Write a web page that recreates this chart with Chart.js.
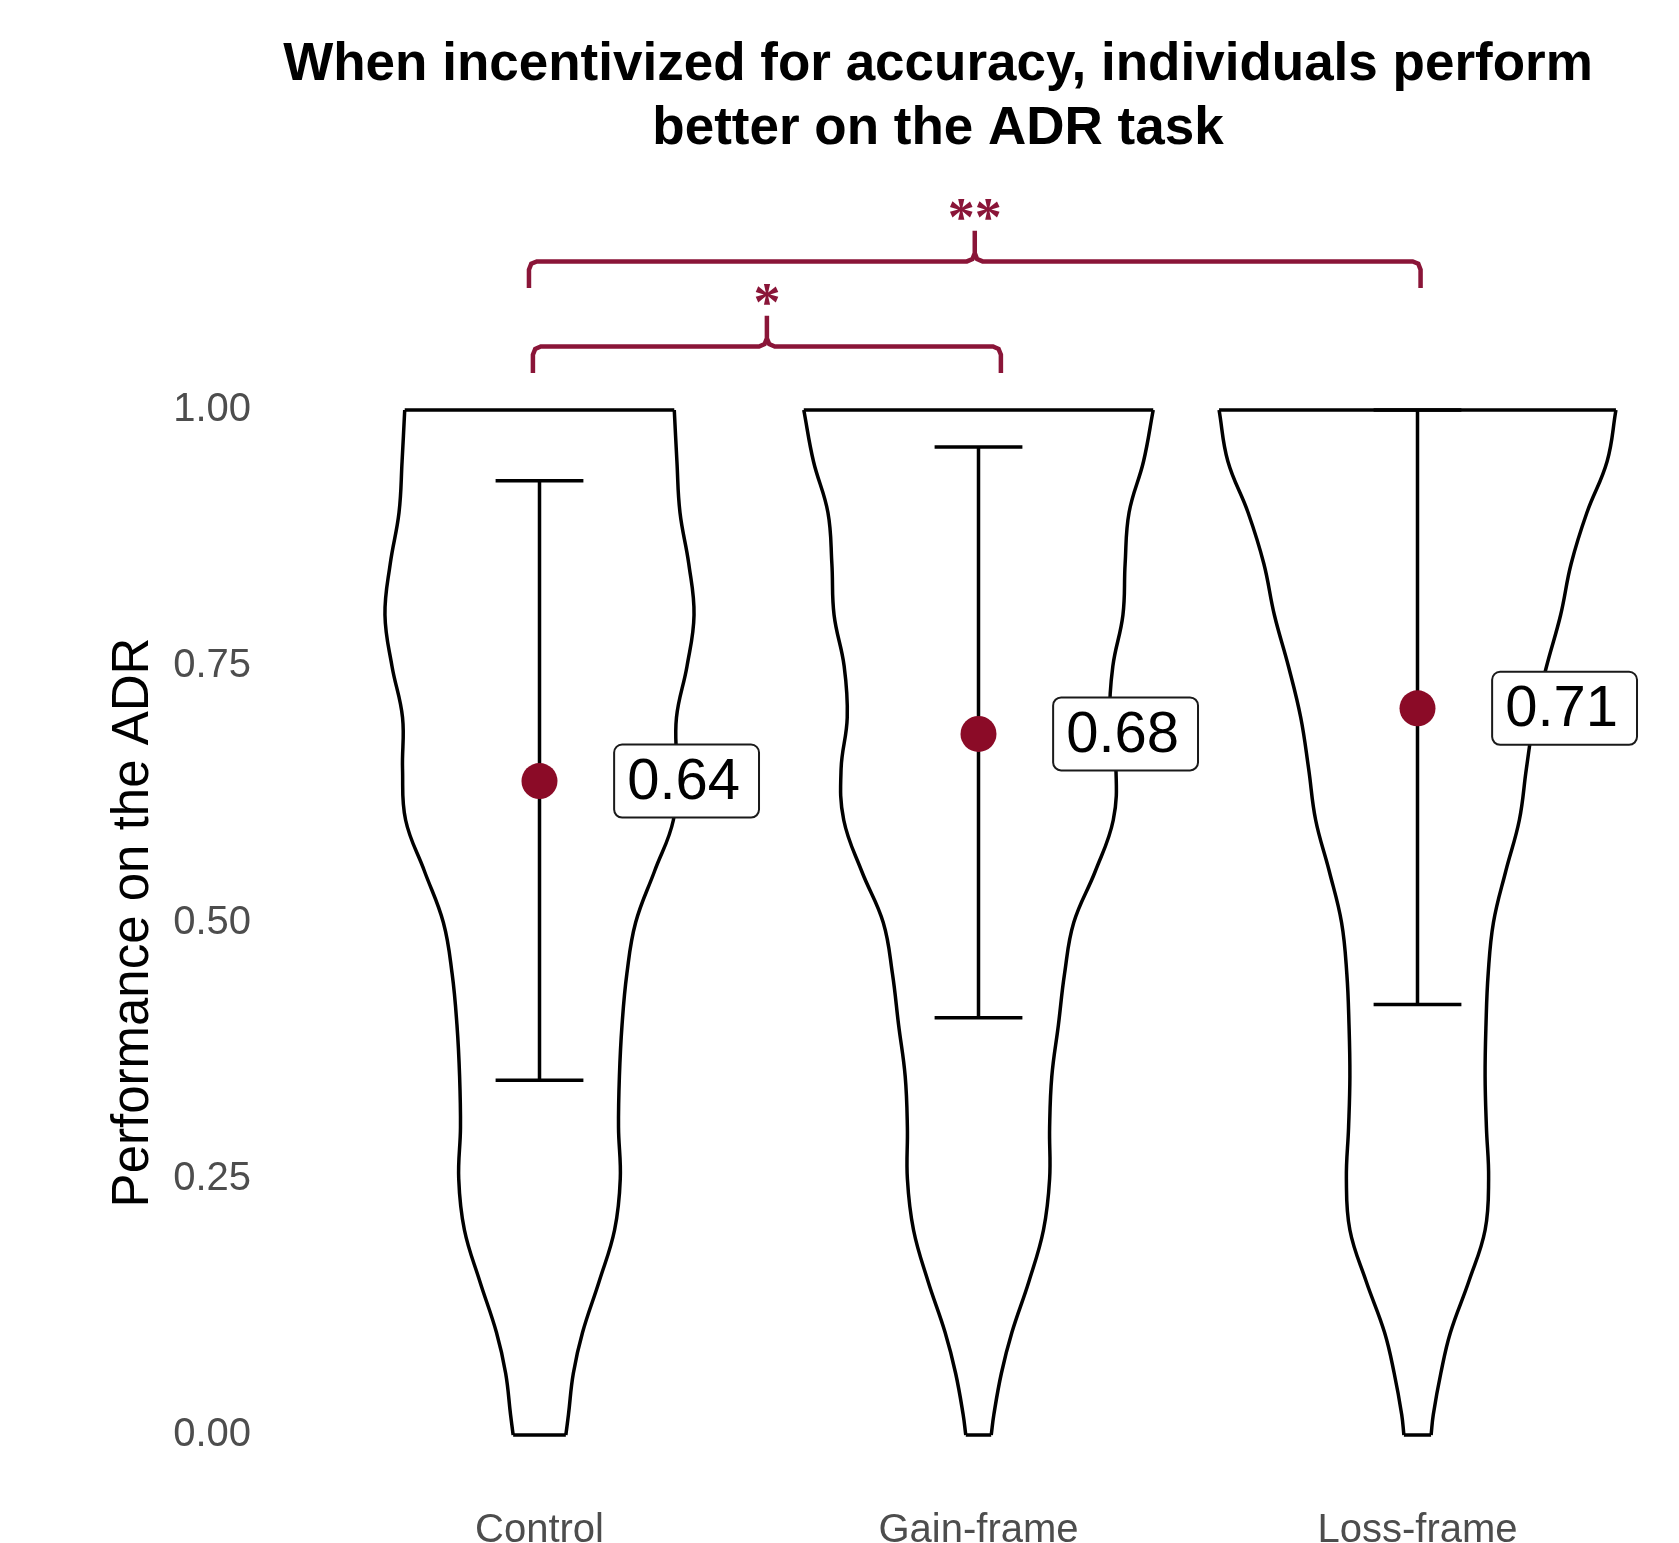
<!DOCTYPE html>
<html>
<head>
<meta charset="utf-8">
<title>ADR task performance</title>
<script src="https://cdn.jsdelivr.net/npm/chart.js@4.4.0/dist/chart.umd.min.js"></script>
<style>
    html, body { margin: 0; padding: 0; background: #ffffff; }
    #wrap { width: 1679px; height: 1543px; position: relative; }
</style>
</head>
<body>
<div id="wrap"><canvas id="adrChart"></canvas></div>
<script>
    // Nhóm và giá trị trung bình / khoảng tin cậy
    var groups = ['Control', 'Gain-frame', 'Loss-frame'];
    var means = [0.638, 0.684, 0.709];
    var ciLow = [0.346, 0.407, 0.420];
    var ciHigh = [0.931, 0.964, 1.000];

    // Đường viền violin: nửa bề rộng (đơn vị nhóm) tại từng mức densityY
    var densityY = [0, 0.02, 0.06, 0.10, 0.15, 0.20, 0.25, 0.30, 0.35, 0.40, 0.45, 0.50, 0.55, 0.60, 0.65, 0.70, 0.75, 0.80, 0.85, 0.90, 0.95, 1.00];
    var controlWidth = [0.060, 0.066, 0.077, 0.098, 0.136, 0.171, 0.184, 0.180, 0.182, 0.188, 0.199, 0.219, 0.262, 0.305, 0.312, 0.312, 0.336, 0.352, 0.340, 0.320, 0.313, 0.307];
    var gainWidth = [0.029, 0.035, 0.052, 0.076, 0.115, 0.148, 0.162, 0.162, 0.167, 0.182, 0.196, 0.217, 0.266, 0.307, 0.313, 0.299, 0.306, 0.329, 0.334, 0.343, 0.376, 0.398];
    var lossWidth = [0.031, 0.036, 0.053, 0.075, 0.117, 0.154, 0.162, 0.157, 0.154, 0.156, 0.161, 0.173, 0.201, 0.232, 0.248, 0.266, 0.294, 0.326, 0.350, 0.386, 0.432, 0.452];

    // Nhãn trục
    var yTicks = [0, 0.25, 0.5, 0.75, 1];
    var titleLines = ['When incentivized for accuracy, individuals perform', 'better on the ADR task'];
    var yTitle = 'Performance on the ADR';

    // Dấu ngoặc ý nghĩa thống kê
    var bracketFrom = [0.976, 0.985];
    var bracketTo = [3.007, 2.051];
    var bracketY = [1.145, 1.062];
    var bracketLabels = ['**', '*'];

    // Kiểu dáng
    var maroon = '#8a1538';
    var dotColor = '#8b0b27';
    var capHalf = 0.1;
    var bracketDrop = 0.026, tipHeight = 0.03, cornerX = 0.018, cornerY = 0.008;
    var labelShift = 0.17, labelPadX = 16, labelHeight = 73;

    // Hàm dựng một cạnh violin (từ đáy lên đỉnh)
    function violinSide(center, widths, sign) {
        var pts = [];
        for (var i = 0; i < densityY.length; i++) {
            pts.push({ x: center + sign * widths[i], y: densityY[i] });
        }
        return pts;
    }

    // Hàm dựng đoạn nắp trên/dưới của các violin
    function violinCaps() {
        var all = [controlWidth, gainWidth, lossWidth];
        var last = densityY.length - 1;
        var pts = [];
        for (var g = 0; g < all.length; g++) {
            var c = g + 1;
            pts.push({ x: c - all[g][last], y: densityY[last] }, { x: c + all[g][last], y: densityY[last] }, { x: c, y: null });
            pts.push({ x: c - all[g][0], y: densityY[0] }, { x: c + all[g][0], y: densityY[0] }, { x: c, y: null });
        }
        return pts;
    }

    // Hàm dựng thanh sai số
    function errorBars() {
        var pts = [];
        for (var i = 0; i < groups.length; i++) {
            var c = i + 1;
            pts.push({ x: c - capHalf, y: ciHigh[i] }, { x: c + capHalf, y: ciHigh[i] }, { x: c, y: null });
            pts.push({ x: c, y: ciHigh[i] }, { x: c, y: ciLow[i] }, { x: c, y: null });
            pts.push({ x: c - capHalf, y: ciLow[i] }, { x: c + capHalf, y: ciLow[i] }, { x: c, y: null });
        }
        return pts;
    }

    // Hàm dựng dấu ngoặc nhọn
    function bracketPath(k) {
        var x0 = bracketFrom[k], x1 = bracketTo[k], y = bracketY[k];
        var xm = (x0 + x1) / 2;
        var q = 0.293;
        return [
            { x: x0, y: y - bracketDrop },
            { x: x0, y: y - cornerY },
            { x: x0 + cornerX * q, y: y - cornerY * q },
            { x: x0 + cornerX, y: y },
            { x: xm - cornerX, y: y },
            { x: xm - cornerX * q, y: y + cornerY * q },
            { x: xm, y: y + cornerY },
            { x: xm, y: y + tipHeight },
            { x: xm, y: y + cornerY },
            { x: xm + cornerX * q, y: y + cornerY * q },
            { x: xm + cornerX, y: y },
            { x: x1 - cornerX, y: y },
            { x: x1 - cornerX * q, y: y - cornerY * q },
            { x: x1, y: y - cornerY },
            { x: x1, y: y - bracketDrop }
        ];
    }

    function lineSet(data, color, width, tension) {
        return {
            type: 'line',
            data: data,
            borderColor: color,
            borderWidth: width,
            backgroundColor: 'transparent',
            pointRadius: 0,
            tension: tension,
            fill: false,
            spanGaps: false,
            clip: false,
            order: 2
        };
    }

    // Plugin vẽ nhãn trung bình, dấu sao và tiêu đề
    var overlayPlugin = {
        id: 'overlay',
        afterDatasetsDraw: function (chart) {
            var ctx = chart.ctx;
            var xs = chart.scales.x, ys = chart.scales.y;
            ctx.save();

            // Nhãn giá trị trung bình
            ctx.font = '58px "Liberation Sans", Arial, sans-serif';
            for (var i = 0; i < groups.length; i++) {
                var text = means[i].toFixed(2);
                var w = ctx.measureText(text).width + 2 * labelPadX;
                var left = xs.getPixelForValue(i + 1 + labelShift);
                var cy = ys.getPixelForValue(means[i]);
                ctx.beginPath();
                ctx.roundRect(left, cy - labelHeight / 2, w, labelHeight, 8);
                ctx.fillStyle = '#ffffff';
                ctx.fill();
                ctx.lineWidth = 2;
                ctx.strokeStyle = '#1a1a1a';
                ctx.stroke();
                ctx.fillStyle = '#000000';
                ctx.textAlign = 'left';
                ctx.textBaseline = 'middle';
                ctx.fillText(text, left + labelPadX - 3, cy + 2);
            }

            // Dấu sao trên dấu ngoặc
            ctx.font = 'bold 54px "Liberation Serif", "Times New Roman", serif';
            ctx.fillStyle = maroon;
            ctx.textAlign = 'center';
            ctx.textBaseline = 'alphabetic';
            for (var k = 0; k < bracketLabels.length; k++) {
                var xm = xs.getPixelForValue((bracketFrom[k] + bracketTo[k]) / 2);
                var top = ys.getPixelForValue(bracketY[k] + tipHeight);
                ctx.fillText(bracketLabels[k], xm, top + 4);
            }

            // Tiêu đề
            ctx.font = 'bold 53px "Liberation Sans", Arial, sans-serif';
            ctx.fillStyle = '#000000';
            ctx.textAlign = 'center';
            ctx.fillText(titleLines[0], 938, 80);
            ctx.fillText(titleLines[1], 938, 144);
            ctx.restore();
        }
    };

    function initChart() {
        var datasets = [];
        // Điểm trung bình (vẽ trên cùng)
        datasets.push({
            type: 'scatter',
            data: means.map(function (m, i) { return { x: i + 1, y: m }; }),
            backgroundColor: dotColor,
            borderWidth: 0,
            pointRadius: 18,
            pointHoverRadius: 18,
            clip: false,
            order: 0
        });
        datasets.push(lineSet(errorBars(), '#000000', 3.5, 0));
        var widths = [controlWidth, gainWidth, lossWidth];
        for (var g = 0; g < widths.length; g++) {
            datasets.push(lineSet(violinSide(g + 1, widths[g], 1), '#000000', 3.5, 0.4));
            datasets.push(lineSet(violinSide(g + 1, widths[g], -1), '#000000', 3.5, 0.4));
        }
        datasets.push(lineSet(violinCaps(), '#000000', 3.5, 0));
        for (var k = 0; k < bracketLabels.length; k++) {
            datasets.push(lineSet(bracketPath(k), maroon, 4.5, 0));
        }

        var ctx = document.getElementById('adrChart').getContext('2d');
        new Chart(ctx, {
            type: 'line',
            data: { datasets: datasets },
            plugins: [overlayPlugin],
            options: {
                responsive: true,
                maintainAspectRatio: false,
                devicePixelRatio: 1,
                animation: false,
                layout: { padding: { top: 410, right: 42, left: 0, bottom: 0 } },
                plugins: {
                    legend: { display: false },
                    tooltip: { enabled: false },
                    title: { display: false }
                },
                scales: {
                    x: {
                        type: 'linear',
                        min: 0.5,
                        max: 3.5,
                        bounds: 'data',
                        grid: { display: false },
                        border: { display: false },
                        afterBuildTicks: function (scale) {
                            scale.ticks = groups.map(function (g, i) { return { value: i + 1 }; });
                        },
                        afterFit: function (scale) { scale.height = 108; },
                        ticks: {
                            autoSkip: false,
                            maxRotation: 0,
                            padding: 64,
                            color: '#4d4d4d',
                            font: { family: '"Liberation Sans", Arial, sans-serif', size: 40 },
                            callback: function (value) { return groups[Math.round(value) - 1]; }
                        }
                    },
                    y: {
                        type: 'linear',
                        min: 0,
                        max: 1,
                        bounds: 'data',
                        grid: { display: false },
                        border: { display: false },
                        afterBuildTicks: function (scale) {
                            scale.ticks = yTicks.map(function (v) { return { value: v }; });
                        },
                        afterFit: function (scale) { scale.width = 320; },
                        ticks: {
                            padding: 61,
                            color: '#4d4d4d',
                            font: { family: '"Liberation Sans", Arial, sans-serif', size: 40 },
                            callback: function (value) { return Number(value).toFixed(2); }
                        },
                        title: {
                            display: true,
                            text: yTitle,
                            color: '#000000',
                            font: { family: '"Liberation Sans", Arial, sans-serif', size: 51 },
                            padding: { top: 103, bottom: 0 }
                        }
                    }
                }
            }
        });
    }

    initChart();
</script>
</body>
</html>
